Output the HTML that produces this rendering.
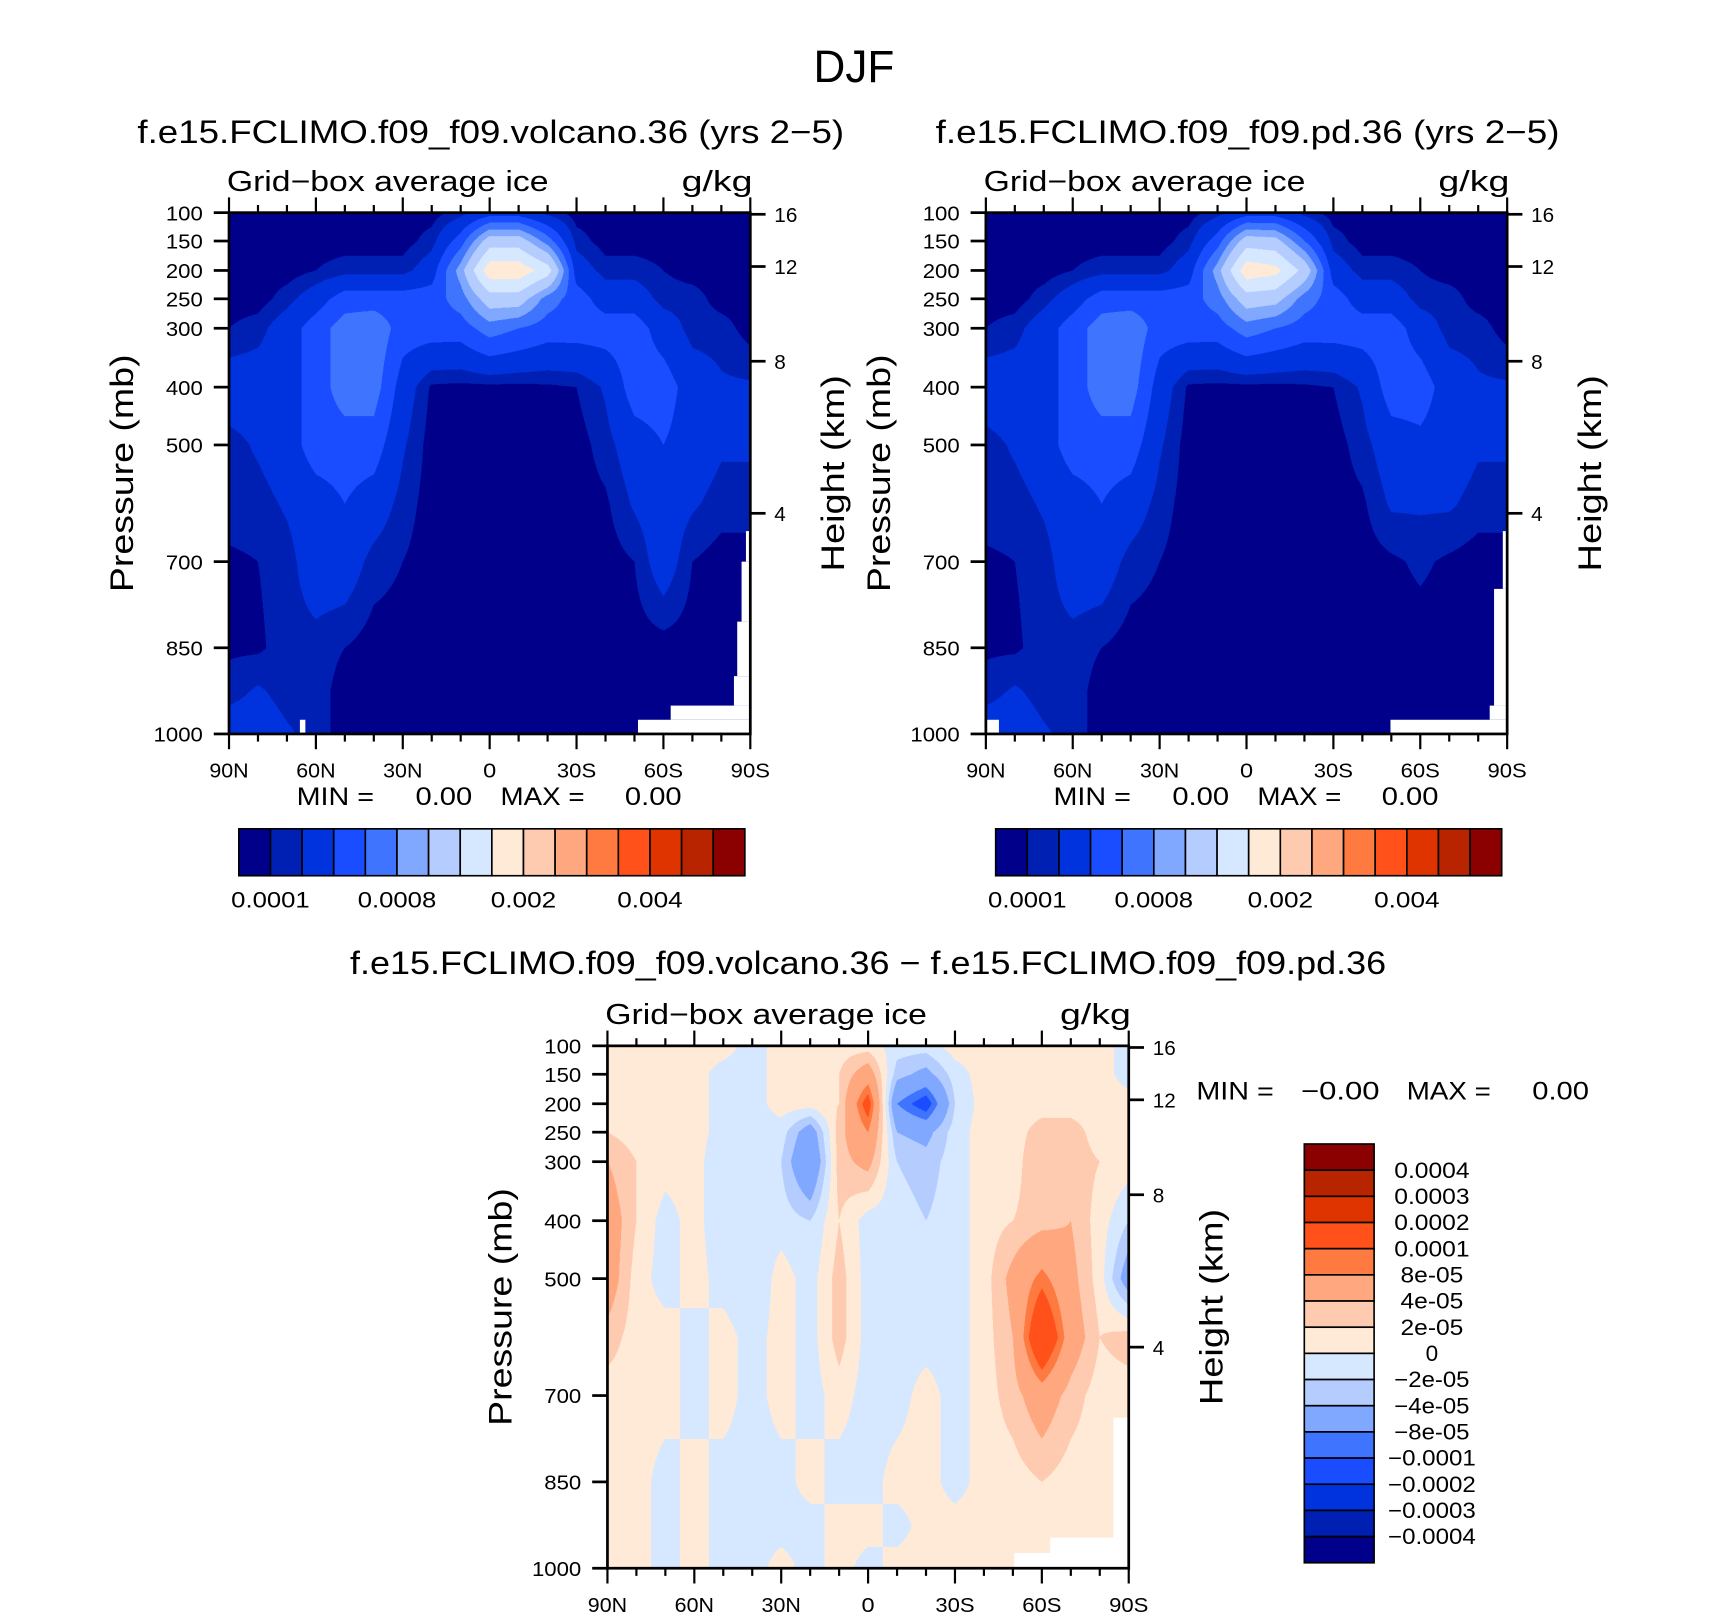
<!DOCTYPE html>
<html><head><meta charset="utf-8">
<style>
html,body{margin:0;padding:0;background:#fff;width:1710px;height:1616px;overflow:hidden}
#stage{position:absolute;left:0;top:0;width:1568px;height:1482px;transform:scale(1.09056);transform-origin:0 0;font-family:"Liberation Sans",sans-serif}
canvas{position:absolute}
svg{position:absolute;left:0;top:0}
</style></head>
<body>
<div id="stage">
<canvas id="c1"></canvas>
<canvas id="c2"></canvas>
<canvas id="c3"></canvas>
<svg id="ov" width="1568" height="1482" viewBox="0 0 1568 1482"></svg>
</div>
<script>
// ---------- data ----------
const lats=[90,80,70,60,50,40,30,20,10,0,-10,-20,-30,-40,-50,-60,-70,-80,-90];
const plevs=[100,150,200,250,300,400,500,600,700,850,925,1000];
const pTickLabels=[100,150,200,250,300,400,500,700,850,1000];
const hTickLabels=[16,12,8,4];
const latTickValues=[90,60,30,0,-30,-60,-90];
const latTickLabels=['90N','60N','30N','0','30S','60S','90S'];
// ice levels in 1e-4 g/kg
const iceLevels=[1,2,4,6,8,10,13,16,20,25,30,35,40,45,50];
const iceLabelIdx=[0,4,8,12];
const iceLabels=['0.0001','0.0008','0.002','0.004'];
// difference levels in 1e-5 g/kg
const diffLevels=[-40,-30,-20,-10,-8,-4,-2,0,2,4,8,10,20,30,40];
const diffLabels=['0.0004','0.0003','0.0002','0.0001','8e-05','4e-05','2e-05','0','\u22122e-05','\u22124e-05','\u22128e-05','\u22120.0001','\u22120.0002','\u22120.0003','\u22120.0004'];
const palette=['#00008a','#0020b4','#0033dd','#1a4dff','#3f74ff','#80a8ff','#b5ccff','#d6e8ff','#ffead8','#ffcbb0','#ffa880','#ff7a40','#ff5119','#e03400','#b82300','#8b0000'];
// volcano run (1e-4 g/kg), rows = plevs, cols = lats
const volcano=[
[.5,.5,.5,.5,.5,.5,.5,.5,1.5,3,3,1.5,.5,.5,.5,.5,.5,.5,.5],
[.5,.5,.5,.5,.5,.5,.5,1.5,5,11.5,11.5,7,1.5,.5,.5,.5,.5,.5,.5],
[.5,.5,.5,1,1.5,1.5,1.5,3,9,18,18,14.5,3,1.5,1.5,1,.5,.5,.5],
[.5,.5,1.5,3,5,5,5,5,7,11.5,11.5,7,5,3,3,1.5,1.5,.5,.5],
[1,1.5,3,5,7,7.5,5,5,5,7,6,5,5,5,5,3,1.5,1.5,.5],
[3,3,3,5,7,7,3,.8,.7,.7,.7,.8,1,2.2,5,5,3,2.2,2.2],
[1.5,2.2,3,5,5,5,2.2,.5,.5,.5,.5,.5,.5,1.5,3,4,3,2.2,2.2],
[1.5,1.5,2.2,3,4,3,1.5,.5,.5,.5,.5,.5,.5,.8,2.2,3,2.2,1.5,1.5],
[.8,1,1.5,3,3,1.5,1,.5,.5,.5,.5,.5,.5,.5,1,3,1,.5,.5],
[.8,.8,1.5,1.5,1,.5,.5,.5,.5,.5,.5,.5,.5,.5,.5,.5,.5,.5,.5],
[1.5,2.2,1.5,1.5,.5,.5,.5,.5,.5,.5,.5,.5,.5,.5,.5,.5,.5,.5,.5],
[3,3,2.2,1.5,.5,.5,.5,.5,.5,.5,.5,.5,.5,.5,.5,.5,.5,.5,.5]];
// present-day run
const pd=[
[.5,.5,.5,.5,.5,.5,.5,.5,1.5,3,3,1.5,.5,.5,.5,.5,.5,.5,.5],
[.5,.5,.5,.5,.5,.5,.5,1.5,5,11.5,11,6,1.5,.5,.5,.5,.5,.5,.5],
[.5,.5,.5,1,1.5,1.5,1.5,3,9,18,17,12,3,1.5,1.5,1,.5,.5,.5],
[.5,.5,1.5,3,5,5,5,5,7,11.5,11,7,5,3,3,1.5,1.5,.5,.5],
[1,1.5,3,5,7,7.5,5,5,5,7,6,5,5,5,5,3,1.5,1.5,.5],
[3,3,3,5,7,7,3,.8,.7,.7,.7,.8,1,2.2,5,5,3,2.2,2.2],
[1.5,2.2,3,5,5,5,2.2,.5,.5,.5,.5,.5,.5,1.5,3,3.5,3,2.2,2.2],
[1.5,1.5,2.2,3,4,3,1.5,.5,.5,.5,.5,.5,.5,.8,2.2,2.2,2.2,1.5,1.5],
[.8,1,1.5,3,3,1.5,1,.5,.5,.5,.5,.5,.5,.5,.8,1.2,.8,.5,.5],
[.8,.8,1.5,1.5,1,.5,.5,.5,.5,.5,.5,.5,.5,.5,.5,.5,.5,.5,.5],
[1.5,2.2,1.5,1.5,.5,.5,.5,.5,.5,.5,.5,.5,.5,.5,.5,.5,.5,.5,.5],
[3,3,2.2,1.5,.5,.5,.5,.5,.5,.5,.5,.5,.5,.5,.5,.5,.5,.5,.5]];
// difference (1e-5 g/kg)
const diff=[
[1,1,1,1,1,-1,1,1,1,1,-1,-1,1,1,1,1,1,1,-1],
[1,1,1,1,-1,-1,1,1,2,6,-3,-5,-1,1,1,1,1,1,-1],
[1,1,1,1,-1,-1,1,1,2,12,-8,-12,-2,1,1,1,1,1,1],
[2,1,1,1,-1,-1,-1,-6,3,8,-4,-5,-1,1,1,3,3,1,1],
[4,2,1,1,-2,-1,-2,-8,3,5,-2,-3,-1,1,1,4,3,2,1],
[6,2,-1,1,-2,-1,-1,-2,2,-1,-1,-2,-1,1,2,3,4,1,-2],
[6,1,-1,1,-1,-2,1,-1,3,-1,-1,-1,-1,1,5,9,5,1,-6],
[3,1,1,-1,1,-1,1,-1,3,-1,-1,-1,-1,1,4,15,6,2,3],
[1,1,1,-1,1,-1,1,-1,1,-1,-1,1,-1,1,3,6,3,1,1],
[1,1,-1,1,-1,-1,-1,1,-1,-1,1,1,-1,1,1,2,1,1,1],
[2,1,-1,1,-1,-1,-1,-1,1,1,-1,1,1,1,1,1,1,1,1],
[1,1,-1,1,-1,-1,1,-1,1,-1,1,1,1,1,1,1,1,1,1]];

// ---------- axis helpers ----------
const NS='http://www.w3.org/2000/svg';
const ov=document.getElementById('ov');
const pKnotP=[100,150,200,250,300,400,500,600,700,850,925,1000];
const pKnotF=[0,26,53,79,106,160,213,267,320,399,439,478].map(v=>v/478);
function pFrac(p){if(p<=pKnotP[0])return 0;for(let i=0;i<pKnotP.length-1;i++){if(p<=pKnotP[i+1]){const t=(p-pKnotP[i])/(pKnotP[i+1]-pKnotP[i]);return pKnotF[i]+t*(pKnotF[i+1]-pKnotF[i]);}}return 1;}
function hToP(km){const z=km*1000;if(z<=11000)return 1013.25*Math.pow(1-2.25577e-5*z,5.25588);return 226.32*Math.exp(-(z-11000)/6341.6);}
function latFrac(l){return (90-l)/180;}
function el(tag,attrs,txt){const e=document.createElementNS(NS,tag);for(const k in attrs)e.setAttribute(k,attrs[k]);if(txt!==undefined)e.textContent=txt;ov.appendChild(e);return e;}
function bandOf(v,levels){let k=0;while(k<levels.length&&v>=levels[k])k++;return k;}
function hex(c){return [parseInt(c.substr(1,2),16),parseInt(c.substr(3,2),16),parseInt(c.substr(5,2),16)];}
const rgb=palette.map(hex);

function drawField(id,x,y,w,h,data,levels){
  const c=document.getElementById(id);const S=2;
  c.width=w*S;c.height=h*S;c.style.left=x+'px';c.style.top=y+'px';c.style.width=w+'px';c.style.height=h+'px';
  const ctx=c.getContext('2d');const img=ctx.createImageData(w*S,h*S);
  const levF=plevs.map(pFrac);
  for(let py=0;py<h*S;py++){
    const f=(py+0.5)/(h*S);let i=0;while(i<levF.length-2&&f>levF[i+1])i++;
    const ty=Math.min(1,Math.max(0,(f-levF[i])/(levF[i+1]-levF[i])));
    for(let px=0;px<w*S;px++){
      const fx=(px+0.5)/(w*S)*(lats.length-1);const j=Math.min(lats.length-2,Math.floor(fx));const tx=fx-j;
      const v=(data[i][j]*(1-tx)+data[i][j+1]*tx)*(1-ty)+(data[i+1][j]*(1-tx)+data[i+1][j+1]*tx)*ty;
      const col=rgb[bandOf(v,levels)];const o=(py*w*S+px)*4;
      img.data[o]=col[0];img.data[o+1]=col[1];img.data[o+2]=col[2];img.data[o+3]=255;
    }
  }
  ctx.putImageData(img,0,0);
}
function txt(x,y,s,size,anchor,name,len){
  const a={x:x,y:y,'font-size':size,'text-anchor':anchor||'start'};
  if(len){a.textLength=len;a.lengthAdjust='spacingAndGlyphs';}
  const t=el('text',a,s);
  
  return t;}

function drawAxes(x,y,w,h,prefix){
  const fr=el('rect',{x:x,y:y,width:w,height:h,fill:'none',stroke:'#000','stroke-width':2.5});
  
  
  pTickLabels.forEach(p=>{
    const yy=y+pFrac(p)*h;
    const t=el('line',{x1:x-14,x2:x,y1:yy,y2:yy,stroke:'#000','stroke-width':2.5});
    
    
    const s=String(p);
    const lb=el('text',{x:x-24,y:yy+7,'text-anchor':'end','font-size':19,textLength:s.length*11.3,lengthAdjust:'spacingAndGlyphs'},s);
    
    
  });
  hTickLabels.forEach(km=>{
    const yy=y+pFrac(hToP(km))*h;
    const t=el('line',{x1:x+w,x2:x+w+14,y1:yy,y2:yy,stroke:'#000','stroke-width':2.5});
    
    
    const lb=el('text',{x:x+w+22,y:yy+7,'font-size':19},String(km));
    
    
  });
  for(let l=90;l>=-90;l-=10){
    const xx=x+latFrac(l)*w;const major=(l%30===0);const len=major?14:7;
    const b=el('line',{x1:xx,x2:xx,y1:y+h,y2:y+h+len,stroke:'#000','stroke-width':2});
    
    
    const t=el('line',{x1:xx,x2:xx,y1:y,y2:y-len,stroke:'#000','stroke-width':2});
    
    
  }
  latTickValues.forEach((l,i)=>{
    const s=latTickLabels[i];
    const lb=el('text',{x:x+latFrac(l)*w,y:y+h+40,'text-anchor':'middle','font-size':19,textLength:s.length*12,lengthAdjust:'spacingAndGlyphs'},s);
    
    
  });
  const pt=el('text',{transform:'translate('+(x-88)+','+(y+h/2)+') rotate(-90)','text-anchor':'middle','font-size':30,textLength:218,lengthAdjust:'spacingAndGlyphs'},'Pressure (mb)');
  
  
  const ht=el('text',{transform:'translate('+(x+w+86)+','+(y+h/2)+') rotate(-90)','text-anchor':'middle','font-size':30,textLength:180,lengthAdjust:'spacingAndGlyphs'},'Height (km)');
  
  
  txt(x-2,y-20,'Grid\u2212box average ice',26,'start',prefix+'-variable-label',295);
  txt(x+w+2,y-20,'g/kg',26,'end',prefix+'-units-label',65);
}
function white(x,y,w,h){const r=el('rect',{x:x,y:y,width:w,height:h,fill:'#fff'});
  
  }

// ---------- panels ----------
const P1={x:210,y:195,w:478,h:478}, P2={x:904,y:195,w:478,h:478}, P3={x:557,y:959,w:478,h:479};
drawField('c1',P1.x,P1.y,P1.w,P1.h,volcano,iceLevels);
drawField('c2',P2.x,P2.y,P2.w,P2.h,pd,iceLevels);
drawField('c3',P3.x,P3.y,P3.w,P3.h,diff,diffLevels);

white(585,660,103,13);white(615,647,73,13);white(673,620,15,27);white(676,570,12,50);white(680,515,8,55);white(684,487,4,28);white(275,660,5,13);
white(1275,660,107,13);white(1366,647,16,13);white(1370,540,12,107);white(1378,487,4,53);white(904,660,12,13);
white(930,1424,105,14);white(963,1410,72,14);white(1021,1300,14,110);

drawAxes(P1.x,P1.y,P1.w,P1.h,'volcano');
drawAxes(P2.x,P2.y,P2.w,P2.h,'pd');
drawAxes(P3.x,P3.y,P3.w,P3.h,'difference');

txt(783,75,'DJF',42,'middle','figure-title',74);
txt(450,131,'f.e15.FCLIMO.f09_f09.volcano.36 (yrs 2\u22125)',30,'middle','volcano-panel-title',648);
txt(1144,131,'f.e15.FCLIMO.f09_f09.pd.36 (yrs 2\u22125)',30,'middle','pd-panel-title',572);
txt(796,893,'f.e15.FCLIMO.f09_f09.volcano.36 \u2212 f.e15.FCLIMO.f09_f09.pd.36',30,'middle','difference-panel-title',950);

[[0,'volcano'],[694,'pd']].forEach(([dx,n])=>{
  txt(272+dx,738,'MIN  =',23,'start',n+'-min-label',71);
  txt(381+dx,738,'0.00',23,'start',n+'-min-value',52);
  txt(459+dx,738,'MAX  =',23,'start',n+'-max-label',77);
  txt(573+dx,738,'0.00',23,'start',n+'-max-value',52);
  palette.forEach((c,i)=>{
    const r=el('rect',{x:219+dx+i*29,y:760,width:29,height:43,fill:c,stroke:'#000','stroke-width':1.5});
    
    
  });
  iceLabelIdx.forEach((k,i)=>txt(219+dx+(k+1)*29,832,iceLabels[i],20,'middle',n+'-colorbar-label',iceLabels[i].length*12));
});
txt(1097,1008,'MIN  =',23,'start','difference-min-label',71);
txt(1193,1008,'\u22120.00',23,'start','difference-min-value',72);
txt(1290,1008,'MAX  =',23,'start','difference-max-label',77);
txt(1405,1008,'0.00',23,'start','difference-max-value',52);
palette.slice().reverse().forEach((c,i)=>{
  const r=el('rect',{x:1196,y:1049+i*24,width:64,height:24,fill:c,stroke:'#000','stroke-width':1.5});
  
  
});
diffLabels.forEach((s,i)=>txt(1313,1049+(i+1)*24+7,s,20,'middle','difference-colorbar-label',s.length*11.5));
</script>
</body></html>
